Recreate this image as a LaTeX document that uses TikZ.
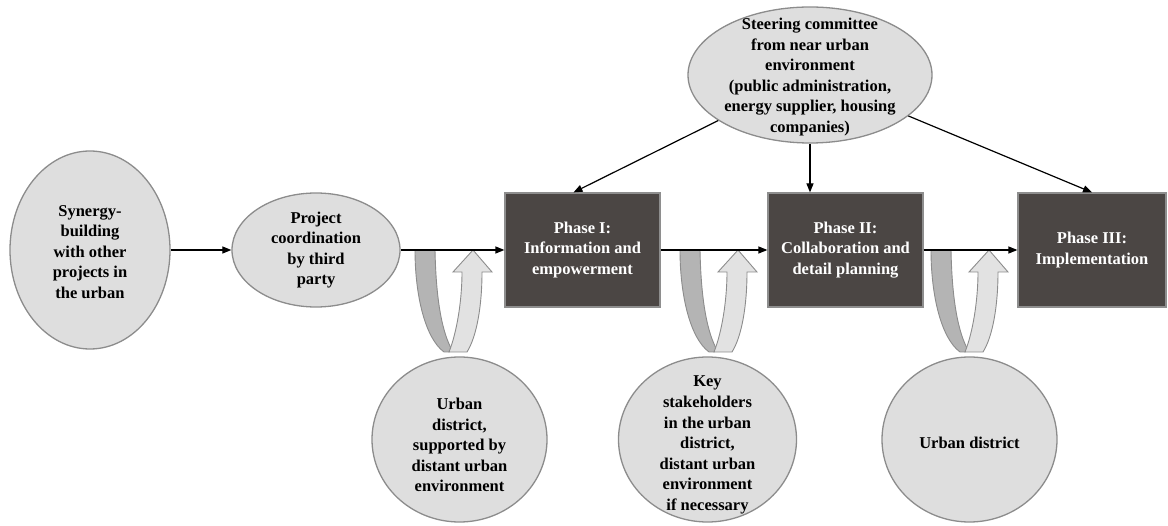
\documentclass[tikz,border=0pt]{standalone}
\usepackage{fontspec}
\setmainfont{Liberation Serif}
\usetikzlibrary{arrows.meta,shapes.geometric}
\definecolor{elfill}{HTML}{DEDEDE}
\definecolor{eldraw}{HTML}{8C8C8C}
\definecolor{boxfill}{HTML}{4B4644}
\definecolor{boxdraw}{HTML}{8E8E8E}
\definecolor{udark}{HTML}{B4B4B4}
\definecolor{ulight}{HTML}{E2E2E2}
\tikzset{
  elshape/.style={ellipse,draw=eldraw,fill=elfill,line width=1.3pt,inner sep=0pt},
  eltext/.style={align=center,inner sep=0pt,font=\bfseries\fontsize{16.5}{20.6}\selectfont,text=black},
  phasebox/.style={rectangle,draw=boxdraw,fill=boxfill,line width=1.2pt,inner sep=0pt,
    align=center,font=\bfseries\fontsize{16.5}{20.6}\selectfont,text=white},
  conn/.style={line width=1.2pt,-{Triangle[length=9pt,width=7pt]}},
  ushape/.style={line width=0.9pt,draw=eldraw},
}
\newcommand{\uturnarrow}[1]{%
  \begin{scope}[shift={(#1,250)}]
    \path[ushape,fill=udark] (0,0) -- (20,0) .. controls (21,50) and (27,82) .. (37,100)
      -- (34,102) -- (29,102) .. controls (10,88) and (0,45) .. cycle;
    \path[ushape,fill=ulight] (34,102) .. controls (42,82) and (47,50) .. (47,22)
      -- (38,22) -- (58,0) -- (77,22) -- (67,22) .. controls (67,55) and (62,86) .. (52,102)
      -- cycle;
  \end{scope}}
\begin{document}
\begin{tikzpicture}[x=1pt,y=-1pt]
\useasboundingbox (0,0) rectangle (1168,526);
% U-turn arrows
\uturnarrow{415}
\uturnarrow{680}
\uturnarrow{931}
% ellipses
\node[elshape,minimum width=160pt,minimum height=198pt] (syn) at (90,250) {};
\node[eltext] (syntxt) at (90,252) {Synergy-\\building\\with other\\projects in\\the urban};
\node[elshape,minimum width=168pt,minimum height=114pt] (proj) at (316,250) {};
\node[eltext] (projtxt) at (316,250) {Project\\coordination\\by third\\party};
\node[elshape,minimum width=244pt,minimum height=136pt] (steer) at (810,75) {};
\node[eltext] (steertxt) at (810,77) {Steering committee\\from near urban\\environment\\(public administration,\\energy supplier, housing\\companies)};
% phase boxes
\node[phasebox,minimum width=155pt,minimum height=114pt] (p1) at (582.5,250) {Phase I:\\Information and\\empowerment};
\node[phasebox,minimum width=155pt,minimum height=114pt] (p2) at (845.5,250) {Phase II:\\Collaboration and\\detail planning};
\node[phasebox,minimum width=148pt,minimum height=114pt] (p3) at (1092,250) {Phase III:\\Implementation};
% bottom circles
\node[elshape,minimum width=175pt,minimum height=165pt] (c1) at (459.5,439.5) {};
\node[eltext] (c1txt) at (459.5,445) {Urban\\district,\\supported by\\distant urban\\environment};
\node[elshape,minimum width=178pt,minimum height=165pt] (c2) at (707.5,439.5) {};
\node[eltext] (c2txt) at (707.5,445) {Key\\stakeholders\\in the urban\\district,\\distant urban\\environment\\if necessary};
\node[elshape,minimum width=175pt,minimum height=165pt] (c3) at (969.5,439.5) {};
\node[eltext] (c3txt) at (969.5,443) {Urban district};
% connectors
\draw[conn] (syn) -- (proj);
\draw[conn] (proj) -- (p1);
\draw[conn] (p1) -- (p2);
\draw[conn] (p2) -- (p3);
\draw[conn] (steer) -- ([xshift=-9pt]p1.north);
\draw[conn] (steer.south) -- (steer.south |- p2.north);
\draw[conn] (steer) -- (p3.north);
\end{tikzpicture}
\end{document}
